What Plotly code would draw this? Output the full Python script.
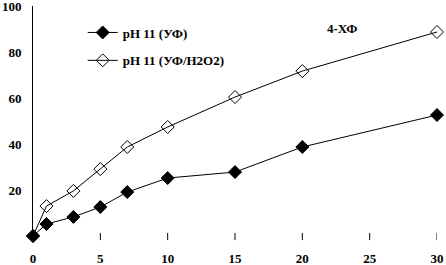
import plotly.graph_objects as go

x_vals = [0, 1, 3, 5, 7, 10, 15, 20, 30]
uv = [0, 5.2, 8.3, 12.6, 19.1, 25.2, 27.8, 38.7, 52.6]
uv_h2o2 = [0, 13.0, 19.6, 29.1, 38.7, 47.4, 60.4, 71.7, 88.7]
names = ["pH 11 (УФ)", "pH 11 (УФ/H2O2)"]
x_ticks = [0, 5, 10, 15, 20, 25, 30]
y_ticks = [20, 40, 60, 80, 100]
label = "4-ХФ"

FONT = "Liberation Serif, Times New Roman, serif"

fig = go.Figure()
fig.add_trace(go.Scatter(
    x=x_vals, y=uv, name=names[0], mode="lines+markers", legendgroup="a",
    line=dict(color="black", width=1),
    marker=dict(symbol="diamond", size=10, color="black", line=dict(color="black", width=1)),
    cliponaxis=False,
))
fig.add_trace(go.Scatter(
    x=x_vals, y=uv_h2o2, name=names[1], mode="lines+markers", legendgroup="b",
    line=dict(color="black", width=1),
    marker=dict(symbol="diamond-open", size=10, color="black", line=dict(color="black", width=1)),
    cliponaxis=False,
))

fig.add_annotation(text="<b>" + label + "</b>", x=0.807, y=0.943, xref="paper", yref="paper",
                   showarrow=False, font=dict(family=FONT, size=13, color="black"))

# tick marks crossing the baseline, one per tick value (except 0, where the y axis is)
for t in x_ticks[1:]:
    fig.add_shape(type="line", xref="x", yref="paper", x0=t, x1=t, y0=0.013, y1=-0.018,
                  line=dict(color="black", width=1), layer="above")

fig.update_layout(
    width=446, height=265,
    margin=dict(l=33, r=9, t=6, b=29, autoexpand=False),
    paper_bgcolor="white", plot_bgcolor="white",
    font=dict(family=FONT, size=13, color="black"),
    showlegend=True,
    legend=dict(x=0.123, y=0.95, xanchor="left", yanchor="top",
                bgcolor="rgba(0,0,0,0)", tracegroupgap=8,
                font=dict(family=FONT, size=13, color="black", weight="bold"),
                itemwidth=30),
    xaxis=dict(range=[0, 30], tickvals=x_ticks, showgrid=False, zeroline=False,
               showline=False, ticks="outside", ticklen=10, tickcolor="rgba(0,0,0,0)",
               automargin=False, ticklabeloverflow="allow",
               tickfont=dict(family=FONT, size=13, weight="bold")),
    yaxis=dict(range=[0, 100], tickvals=y_ticks, showgrid=False, zeroline=False,
               showline=True, linecolor="black", linewidth=1,
               ticks="outside", ticklen=8, tickcolor="rgba(0,0,0,0)",
               automargin=False, ticklabeloverflow="allow",
               tickfont=dict(family=FONT, size=13, weight="bold")),
)

fig.write_html("out.html", config={"displayModeBar": False},
               post_script="document.body.style.margin='0px';document.body.style.overflow='hidden';")
